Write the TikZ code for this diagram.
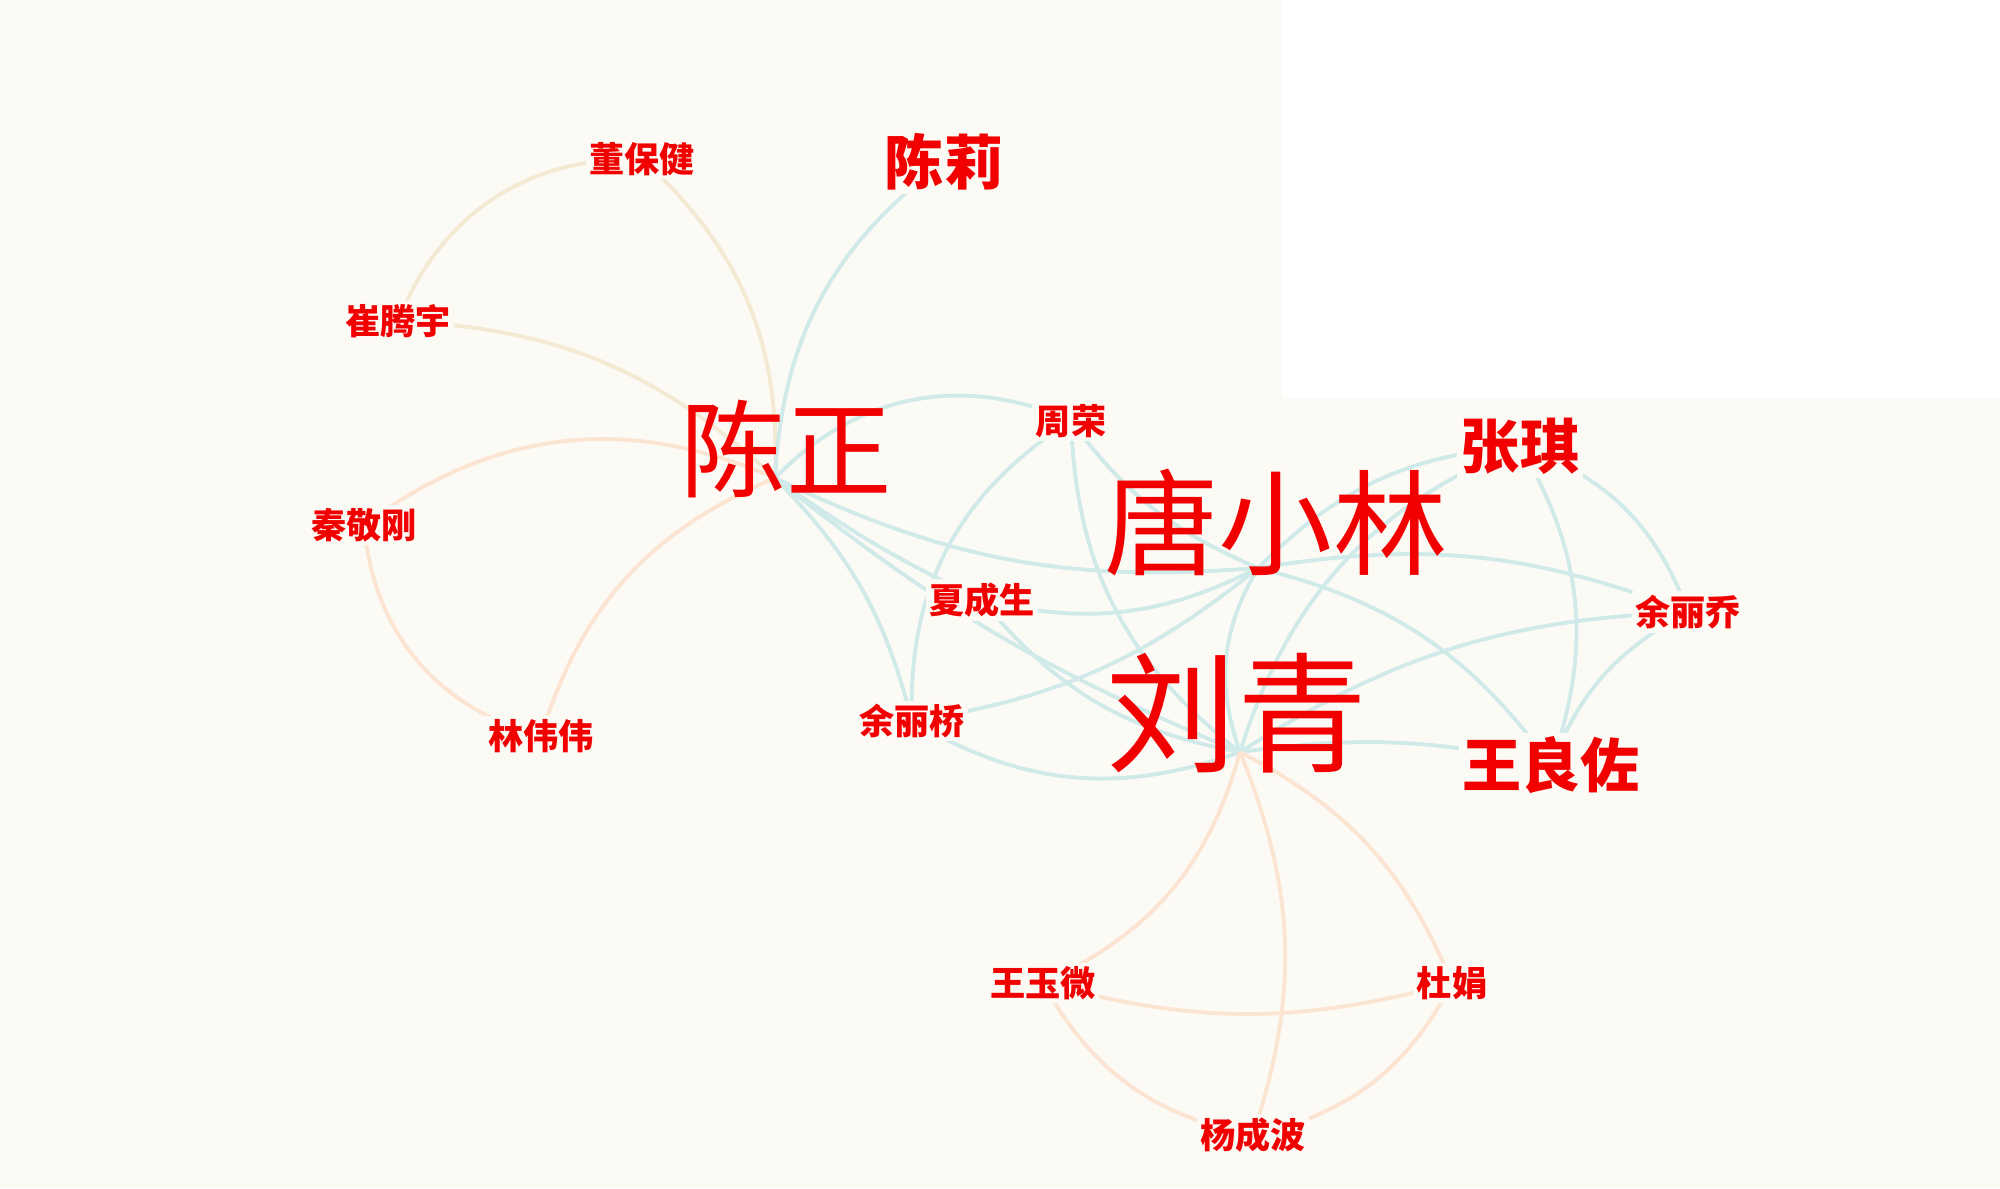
\documentclass[tikz,border=0pt]{standalone}
\usepackage{fontspec}
\usepackage{tikz}
\newfontfamily\cjk{Noto Sans CJK SC}
\definecolor{bgc}{RGB}{252,250,245}
\definecolor{namec}{RGB}{242,0,0}
\definecolor{edgeT}{RGB}{208,233,233}
\definecolor{edgeP}{RGB}{252,228,210}
\definecolor{edgeY}{RGB}{244,234,212}

\begin{document}
\begin{tikzpicture}[
    tedge/.style={edgeT, line width=1.1pt},
    pedge/.style={edgeP, line width=1.1pt},
    yedge/.style={edgeY, line width=1.1pt},
    lblS/.style={text=namec, fill=bgc, inner sep=1pt, font=\cjk\bfseries\fontsize{10}{12}\selectfont},
    lblM/.style={text=namec, fill=bgc, inner sep=1pt, font=\cjk\bfseries\fontsize{16.8}{18}\selectfont},
    lblL/.style={text=namec, inner sep=0pt}
  ]
  \fill[bgc] (0,0) rectangle (20,-11.88);
  \fill[white] (12.82,0) rectangle (20,-3.98);
  \useasboundingbox (0,0) rectangle (20,-11.88);

  \coordinate (cz) at (7.75,-4.78);
  \coordinate (txl) at (12.58,-5.68);
  \coordinate (lq) at (12.40,-7.52);
  \coordinate (cl) at (9.44,-1.62);
  \coordinate (zq) at (15.20,-4.46);
  \coordinate (wlz) at (15.51,-7.65);
  \coordinate (ylq2) at (16.88,-6.12);
  \coordinate (dbj) at (6.42,-1.59);
  \coordinate (cty) at (3.98,-3.21);
  \coordinate (qjg) at (3.64,-5.25);
  \coordinate (lww) at (5.41,-7.36);
  \coordinate (zr) at (10.71,-4.21);
  \coordinate (xcs) at (9.82,-6.00);
  \coordinate (ylq1) at (9.12,-7.21);
  \coordinate (wyw) at (10.43,-9.83);
  \coordinate (dj) at (14.52,-9.83);
  \coordinate (ycb) at (12.53,-11.35);

  \draw[yedge] (dbj) to[bend right=35] (cty);
  \draw[yedge] (dbj) to[bend left=25] (cz);
  \draw[yedge] (cty) to[bend left=20] (cz);

  \draw[pedge] (qjg) to[bend left=30] (cz);
  \draw[pedge] (qjg) to[bend right=35] (lww);
  \draw[pedge] (lww) to[bend left=25] (cz);

  \draw[tedge] (cl) to[bend right=25] (cz);
  \draw[tedge] (cz) to[bend left=35] (zr);
  \draw[tedge] (cz) to[bend right=15] (txl);
  \draw[tedge] (cz) to[bend right=8] (lq);
  \draw[tedge] (cz) to[bend right=5] (xcs);
  \draw[tedge] (cz) to[bend left=15] (ylq1);
  \draw[tedge] (zr) to[bend right=30] (ylq1);
  \draw[tedge] (zr) to[bend right=25] (lq);
  \draw[tedge] (zr) to[bend right=15] (txl);
  \draw[tedge] (xcs) to[bend right=20] (txl);
  \draw[tedge] (xcs) to[bend right=20] (lq);
  \draw[tedge] (ylq1) to[bend right=25] (lq);
  \draw[tedge] (ylq1) to[bend right=15] (txl);
  \draw[tedge] (txl) to[bend right=25] (lq);
  \draw[tedge] (zq) to[bend right=25] (lq);
  \draw[tedge] (txl) to[bend left=20] (zq);
  \draw[tedge] (txl) to[bend left=15] (ylq2);
  \draw[tedge] (txl) to[bend left=20] (wlz);
  \draw[tedge] (lq) to[bend left=15] (ylq2);
  \draw[tedge] (lq) to[bend left=10] (wlz);
  \draw[tedge] (zq) to[bend left=25] (ylq2);
  \draw[tedge] (zq) to[bend left=25] (wlz);
  \draw[tedge] (ylq2) to[bend right=20] (wlz);

  \draw[pedge] (lq) to[bend left=25] (wyw);
  \draw[pedge] (lq) to[bend left=20] (ycb);
  \draw[pedge] (lq) to[bend left=20] (dj);
  \draw[pedge] (wyw) to[bend right=15] (dj);
  \draw[pedge] (wyw) to[bend right=25] (ycb);
  \draw[pedge] (dj) to[bend left=25] (ycb);

  \node[lblL, font=\cjk\fontsize{30}{30}\selectfont] (czname) at (7.86,-4.49) {陈正};
  \node[lblL, font=\cjk\fontsize{32.5}{33}\selectfont] (txlname) at (12.76,-5.23) {唐小林};
  \node[lblL, font=\cjk\fontsize{37}{37}\selectfont] (lqname) at (12.37,-7.13) {刘青};
  \node[lblM] (clname) at (cl) {陈莉};
  \node[lblM] (zqname) at (zq) {张琪};
  \node[lblM] (wlzname) at (wlz) {王良佐};
  \node[lblS] (dbjname) at (dbj) {董保健};
  \node[lblS] (ctyname) at (cty) {崔腾宇};
  \node[lblS] (qjgname) at (qjg) {秦敬刚};
  \node[lblS] (lwwname) at (lww) {林伟伟};
  \node[lblS] (zrname) at (zr) {周荣};
  \node[lblS] (xcsname) at (xcs) {夏成生};
  \node[lblS] (ylq1name) at (ylq1) {余丽桥};
  \node[lblS] (ylq2name) at (ylq2) {余丽乔};
  \node[lblS] (wywname) at (wyw) {王玉微};
  \node[lblS] (djname) at (dj) {杜娟};
  \node[lblS] (ycbname) at (ycb) {杨成波};
\end{tikzpicture}
\end{document}
